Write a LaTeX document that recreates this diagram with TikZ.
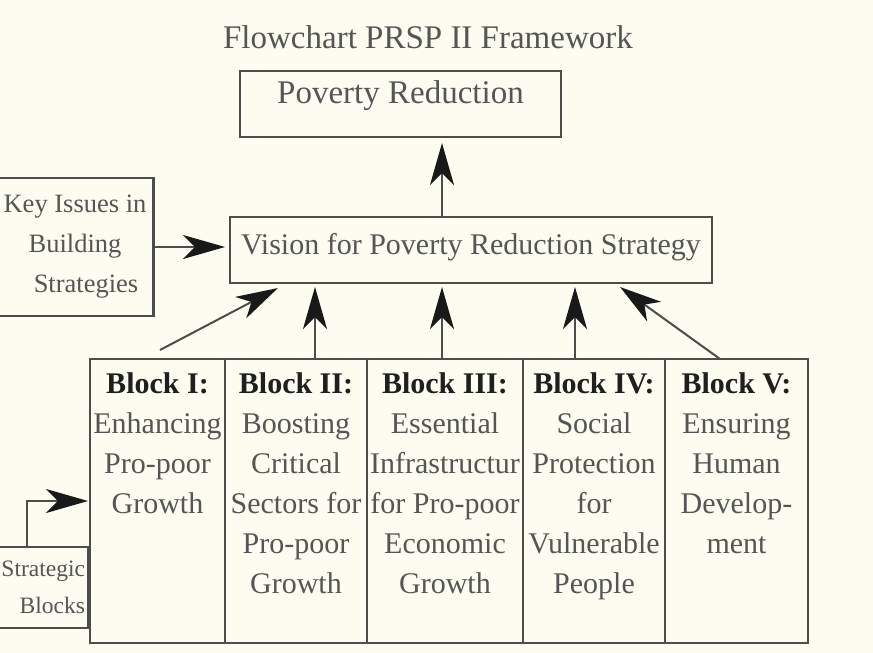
\documentclass[tikz,border=0pt]{standalone}
\usepackage{fontspec}
\setmainfont{Liberation Serif}
\usetikzlibrary{arrows.meta,positioning}

\definecolor{paper}{HTML}{FDFCF0}
\definecolor{ink}{HTML}{555555}
\definecolor{rule}{HTML}{4C4C4C}

\tikzset{
    box/.style={draw=rule, line width=2.4pt, inner sep=0pt, outer sep=0pt},
    txt/.style={text=ink, align=center, inner sep=0pt, font=\fontsize{30}{40}\selectfont},
    blocktxt/.style={txt},
    arr/.style={draw=rule, line width=2pt,
        -{Stealth[length=42pt, width=24pt, inset=12pt, color=black!90]}},
}

\newcommand{\blkhead}[1]{{\bfseries\color{black!88}#1}}

\begin{document}
\begin{tikzpicture}[x=1pt,y=-1pt]
    \useasboundingbox (0,0) rectangle (873,653);
    \clip (0,0) rectangle (873,653);
    \fill[paper] (0,0) rectangle (873,653);

    \node[txt, font=\fontsize{33}{40}\selectfont] (title) at (428,37) {Flowchart PRSP II Framework};

    \node[box, txt, font=\fontsize{33}{40}\selectfont, minimum width=321pt, minimum height=66pt,
        text height=23pt, text depth=24pt] (poverty) at (400.5,104) {Poverty Reduction};

    \node[box, txt, minimum width=482pt, minimum height=66pt,
        text height=21pt, text depth=12pt] (vision) at (471,250) {Vision for Poverty Reduction Strategy};

    \node[box, txt, font=\fontsize{26.5}{40}\selectfont, minimum width=157pt, minimum height=138pt]
        (keys) at (75,247) {Key Issues in\\Building\\\hspace*{22pt}Strategies};

    \node[box, txt, align=right, text width=84pt, font=\fontsize{23.5}{37}\selectfont,
        minimum width=90pt, minimum height=81pt]
        (strat) at (43,587.5) {\llap{Strategic}\\Blocks};

    % the five blocks, side by side
    \node[box, minimum width=135pt, minimum height=284pt] (blk1) at (157.5,501) {};
    \node[box, minimum width=142pt, minimum height=284pt, right=0pt of blk1] (blk2) {};
    \node[box, minimum width=156pt, minimum height=284pt, right=0pt of blk2] (blk3) {};
    \node[box, minimum width=142pt, minimum height=284pt, right=0pt of blk3] (blk4) {};
    \node[box, minimum width=143pt, minimum height=284pt, right=0pt of blk4] (blk5) {};

    \node[blocktxt, below=13pt of blk1.north] (lbl1) {\blkhead{Block I:}\\Enhancing\\Pro-poor\\Growth};
    \node[blocktxt, below=13pt of blk2.north] (lbl2) {\blkhead{Block II:}\\Boosting\\Critical\\Sectors for\\Pro-poor\\Growth};
    \node[blocktxt, below=13pt of blk3.north] (lbl3) {\blkhead{Block III:}\\Essential\\Infrastructur\\for Pro-poor\\Economic\\Growth};
    \node[blocktxt, below=13pt of blk4.north] (lbl4) {\blkhead{Block IV:}\\Social\\Protection\\for\\Vulnerable\\People};
    \node[blocktxt, below=13pt of blk5.north] (lbl5) {\blkhead{Block V:}\\Ensuring\\Human\\Develop-\\ment};

    % arrows
    \draw[arr, shorten >=6pt] ([xshift=-29pt]vision.north) -- ([xshift=-29pt]vision.north |- poverty.south);
    \draw[arr, shorten >=5pt] (keys.east) -- (keys.east -| vision.west);
    \draw[arr] ([shift={(2.5pt,9pt)}]blk1.north) -- ([shift={(48pt,-5pt)}]vision.south west);
    \foreach \i/\dx in {2/19,3/-3,4/-19}
        \draw[arr, shorten >=4pt] ([xshift=\dx pt]blk\i.north) -- ([xshift=\dx pt]blk\i.north |- vision.south);
    \draw[arr] ([xshift=-16.5pt]blk5.north) -- ([shift={(-92pt,-4pt)}]vision.south east);
    \draw[arr, shorten >=2pt] ([xshift=-16pt]strat.north) |- (blk1.west);

\end{tikzpicture}
\end{document}
